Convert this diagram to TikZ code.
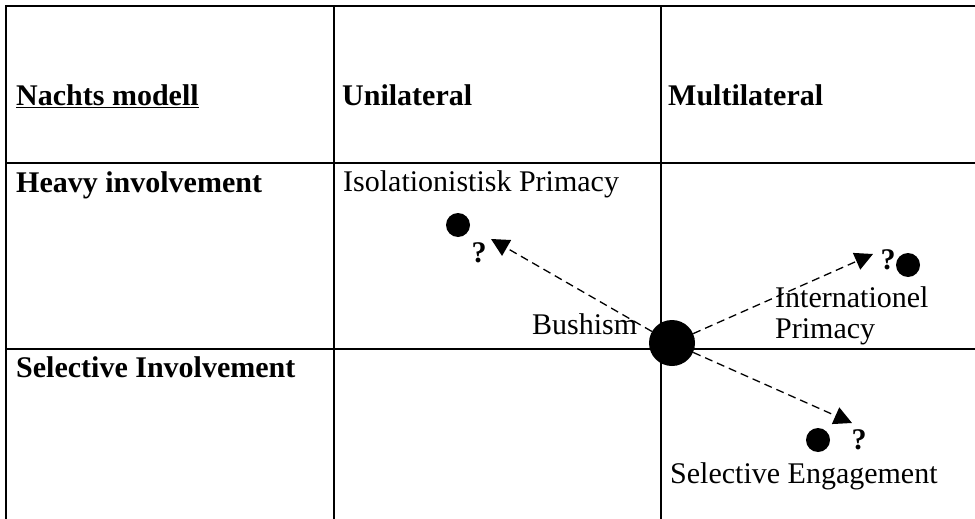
\documentclass[tikz,border=0pt]{standalone}
\usepackage{fontspec}
\setmainfont{Liberation Serif}
\usetikzlibrary{arrows.meta}

\begin{document}
\begin{tikzpicture}[x=1pt,y=-1pt,
    grid/.style={line width=2pt},
    lbl/.style={anchor=base west,inner sep=0pt,font=\fontsize{30}{31}\selectfont},
    hdr/.style={lbl,font=\fontsize{30}{31}\selectfont\bfseries},
    qmark/.style={hdr,anchor=center},
    dot/.style={circle,fill=black,inner sep=0pt,minimum size=24pt},
    flow/.style={dash pattern=on 8pt off 5pt,line width=1.3pt,-{Triangle[length=18pt,width=18pt]}}]
    \useasboundingbox (0,0) rectangle (975,519);
    % table
    \draw[grid] (975,6) -- (6,6) -- (6,519);
    \draw[grid] (6,163) -- (975,163);
    \draw[grid] (6,349) -- (975,349);
    \draw[grid] (334,6) -- (334,519);
    \draw[grid] (661,6) -- (661,519);
    \node[hdr] (model) at (16,106) {\underline{Nachts modell}};
    \node[hdr] (uni) at (342,106) {Unilateral};
    \node[hdr] (multi) at (668,106) {Multilateral};
    \node[hdr] (heavy) at (16,192) {Heavy involvement};
    \node[hdr] (selinv) at (16,377) {Selective Involvement};
    % positions
    \node[lbl] (iso) at (343,191) {Isolationistisk Primacy};
    \node[lbl] (bush) at (532,334) {Bushism};
    \node[lbl,anchor=north west,align=left] (intl) at (775,286) {Internationel\\Primacy};
    \node[lbl] (seleng) at (670,483) {Selective Engagement};
    \node[dot,minimum size=46pt] (now) at (672,343) {};
    \node[dot] (isodot) at (458,225) {};
    \node[dot] (intldot) at (908,265) {};
    \node[dot] (seldot) at (818,440) {};
    \node[qmark] (isoq) at (479,253) {?};
    \node[qmark] (intlq) at (888,260) {?};
    \node[qmark] (selq) at (859,440) {?};
    \coordinate (isotip) at (491,239);
    \coordinate (intltip) at (873,254);
    \coordinate (seltip) at (852,423);
    \draw[flow] (now) -- (isotip);
    \draw[flow] (now) -- (intltip);
    \draw[flow] (now) -- (seltip);
\end{tikzpicture}
\end{document}
